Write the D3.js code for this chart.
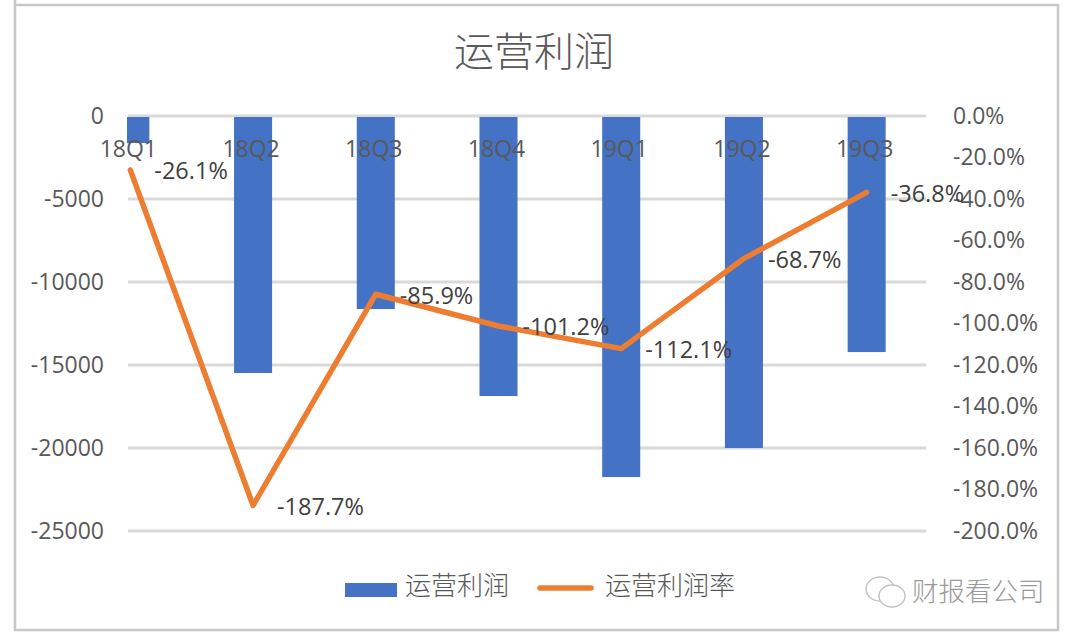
<!DOCTYPE html>
<html>
<head>
<meta charset="utf-8">
<title>运营利润</title>
<style>
	html, body { margin: 0; padding: 0; background: #fff; }
	svg { display: block; }
	text { font-family: "Open Sans", "Noto Sans CJK SC", sans-serif; fill: #595959; }
	.cjk { font-family: "Noto Sans CJK SC", sans-serif; font-weight: 300; }
</style>
<script src="https://d3js.org/d3.v7.min.js"></script>
</head>
<body>
<svg id="chart" width="1080" height="641"></svg>
<script>
const categories = ['18Q1', '18Q2', '18Q3', '18Q4', '19Q1', '19Q2', '19Q3'];
const profit = [-1630, -15480, -11630, -16870, -21750, -20000, -14220];
const margin = [-26.1, -187.7, -85.9, -101.2, -112.1, -68.7, -36.8];
const leftTicks = [0, -5000, -10000, -15000, -20000, -25000];
const rightTicks = [0, -20, -40, -60, -80, -100, -120, -140, -160, -180, -200];

const svg = d3.select('#chart');

// screenshot frame
svg.append('path')
	.attr('d', 'M15,0V630H1058V5H15')
	.attr('fill', 'none').attr('stroke', '#c8c8c8').attr('stroke-width', 2.5);

const x = d3.scaleBand().domain(categories).range([70, 929]).paddingInner(0.69).paddingOuter(0.345);
const y = d3.scaleLinear().domain([-25000, 0]).range([531, 116]);
const y2 = d3.scaleLinear().domain([-200, 0]).range([531, 116]);
const cx = d => x(d) + x.bandwidth() / 2;

svg.append('text').attr('class', 'cjk')
	.attr('x', 534).attr('y', 55).attr('text-anchor', 'middle').attr('dominant-baseline', 'middle')
	.attr('font-size', 40).text('运营利润');

// grid
svg.append('g').selectAll('line').data(leftTicks).join('line')
	.attr('x1', 128).attr('x2', 926)
	.attr('y1', d => y(d)).attr('y2', d => y(d))
	.attr('stroke', '#d9d9d9').attr('stroke-width', 3);

// first bar is cut off at the axis in the original
svg.append('clipPath').attr('id', 'plot').append('rect')
	.attr('x', 127).attr('y', 100).attr('width', 800).attr('height', 440);

svg.append('g').attr('clip-path', 'url(#plot)').selectAll('rect').data(profit).join('rect')
	.attr('x', (d, i) => x(categories[i]) - 1)
	.attr('y', y(0) + 1)
	.attr('width', x.bandwidth())
	.attr('height', d => y(d) - y(0) - 1)
	.attr('fill', '#4472c4');

// axes
const leftAxis = svg.append('g').attr('transform', 'translate(104,0)')
	.call(d3.axisLeft(y).tickValues(leftTicks).tickSize(0).tickPadding(0).tickFormat(d => String(d)));
const rightAxis = svg.append('g').attr('transform', 'translate(953,0)')
	.call(d3.axisRight(y2).tickValues(rightTicks).tickSize(0).tickPadding(0).tickFormat(d => d.toFixed(1) + '%'));
[leftAxis, rightAxis].forEach(a => {
	a.select('.domain').remove();
	a.attr('font-family', null);
	a.selectAll('text').attr('font-size', 23);
});

// category labels sit on top of the bars
svg.append('g').selectAll('text').data(categories).join('text')
	.attr('x', d => cx(d) - 3)
	.attr('y', 151)
	.attr('text-anchor', 'middle').attr('dominant-baseline', 'middle')
	.attr('font-size', 23)
	.text(d => d);

const line = d3.line().x((d, i) => cx(categories[i]) - 1).y(d => y2(d));
svg.append('path').datum(margin)
	.attr('d', line)
	.attr('fill', 'none').attr('stroke', '#ed7d31').attr('stroke-width', 5.5)
	.attr('stroke-linecap', 'round').attr('stroke-linejoin', 'round');

svg.append('g').selectAll('text').data(margin).join('text')
	.attr('x', (d, i) => cx(categories[i]) + 23)
	.attr('y', d => y2(d) + 3)
	.attr('dominant-baseline', 'middle')
	.attr('font-size', 23.5)
	.style('fill', '#404040')
	.text(d => d.toFixed(1) + '%');

// legend
const legend = svg.append('g');
legend.append('rect').attr('x', 345).attr('y', 583).attr('width', 52).attr('height', 14).attr('fill', '#4472c4');
legend.append('text').attr('class', 'cjk').attr('x', 405).attr('y', 588)
	.attr('dominant-baseline', 'middle').attr('font-size', 26).text('运营利润');
legend.append('line').attr('x1', 540).attr('x2', 591).attr('y1', 588).attr('y2', 588)
	.attr('stroke', '#ed7d31').attr('stroke-width', 5.5).attr('stroke-linecap', 'round');
legend.append('text').attr('class', 'cjk').attr('x', 605).attr('y', 588)
	.attr('dominant-baseline', 'middle').attr('font-size', 26).text('运营利润率');

// watermark
const mark = svg.append('g').attr('fill', '#fff').attr('stroke', '#c4c4c4').attr('stroke-width', 1.5);
mark.append('ellipse').attr('cx', 880).attr('cy', 589).attr('rx', 14).attr('ry', 12);
mark.append('ellipse').attr('cx', 892).attr('cy', 596).attr('rx', 13).attr('ry', 11);
svg.append('text').attr('class', 'cjk').attr('x', 912).attr('y', 594)
	.attr('dominant-baseline', 'middle').attr('font-size', 26.5)
	.style('fill', '#9a9a9a').text('财报看公司');
</script>
</body>
</html>
